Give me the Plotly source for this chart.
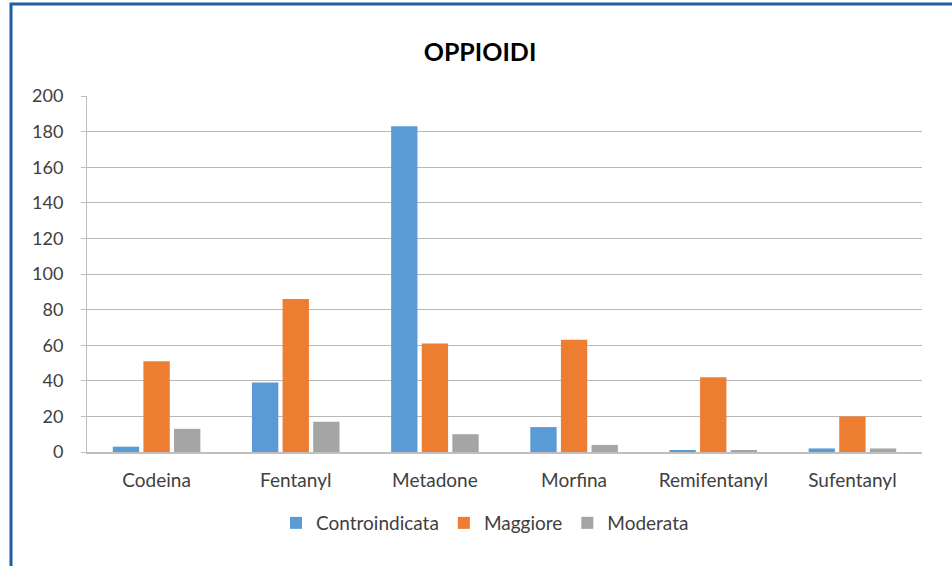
import plotly.graph_objects as go

categories = ["Codeina", "Fentanyl", "Metadone", "Morfina", "Remifentanyl", "Sufentanyl"]
controindicata = [3, 39, 183, 14, 1, 2]
maggiore = [51, 86, 61, 63, 42, 20]
moderata = [13, 17, 10, 4, 1, 2]
series_names = ["Controindicata", "Maggiore", "Moderata"]
colors = ["#5B9BD5", "#ED7D31", "#A5A5A5"]
y_ticks = list(range(0, 201, 20))

W, H = 952, 566
L, R, T, B = 87, 30, 96, 114
pw, ph = W - L - R, H - T - B

fig = go.Figure()
for name, vals, col in zip(series_names, [controindicata, maggiore, moderata], colors):
    fig.add_trace(go.Bar(x=categories, y=vals, name=name, marker=dict(color=col, line=dict(width=0))))

def px_x(x):
    return (x - L) / pw

def px_y(y):
    return 1 - (y - T) / ph

fig.update_layout(
    width=W, height=H,
    margin=dict(l=L, r=R, t=T, b=B),
    paper_bgcolor="white", plot_bgcolor="white",
    font=dict(family="Lato, Liberation Sans, sans-serif", size=18, color="#404040"),
    title=dict(text="<b>OPPIOIDI</b>", x=(480 - L) / pw * pw / W + L / W, xanchor="center",
               y=1 - 52 / H, yanchor="middle",
               font=dict(size=25, color="#000000")),
    barmode="group", bargap=0.34, bargroupgap=0.14,
    legend=dict(orientation="h", x=px_x(485), xanchor="center", y=px_y(523), yanchor="middle",
                font=dict(size=19, color="#404040"), itemwidth=30, tracegroupgap=0),
    xaxis=dict(showgrid=False, showline=True, linecolor="#BFBFBF", linewidth=1.5,
               ticks="", tickfont=dict(size=19, color="#404040"), ticklabelstandoff=10),
    yaxis=dict(range=[0, 200], tickvals=y_ticks, showgrid=True, gridcolor="#B8B8B8", gridwidth=1.3,
               showline=True, linecolor="#BFBFBF", linewidth=1, ticks="outside", ticklen=5,
               tickcolor="#BFBFBF", tickfont=dict(size=18, color="#404040"), zeroline=False,
               ticklabelstandoff=14),
    shapes=[dict(type="rect", xref="paper", yref="paper",
                 x0=px_x(11), x1=px_x(W + 20), y0=px_y(H + 20), y1=px_y(4),
                 line=dict(color="#1F5F9E", width=3), fillcolor="rgba(0,0,0,0)", layer="above")],
)

fig.write_html("out.html")
